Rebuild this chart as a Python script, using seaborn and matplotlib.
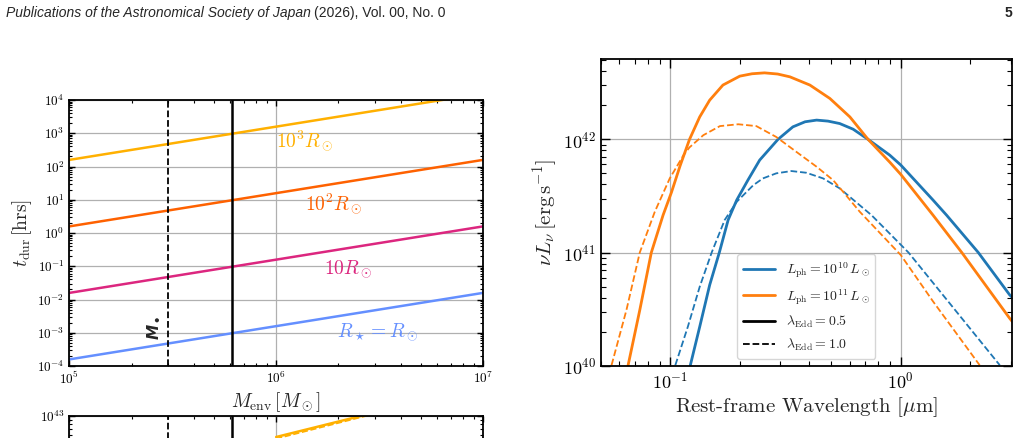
import matplotlib
matplotlib.use("Agg")
import matplotlib.pyplot as plt
import matplotlib.ticker as mticker
from matplotlib.lines import Line2D
import pandas as pd
import seaborn as sns

# === left panel: duration vs envelope mass (straight lines, read at the two ends) ===
m_env = [1e5, 1e7]
t_dur_r1000 = [158, 15800]
t_dur_r100 = [1.58, 158]
t_dur_r10 = [0.0158, 1.58]
t_dur_r1 = [1.58e-4, 0.0158]
radius_labels = [r"$10^3R_\odot$", r"$10^2R_\odot$", r"$10R_\odot$", r"$R_\star = R_\odot$"]
radius_colors = ["#FFB000", "#FE6100", "#DC267F", "#648FFF"]
m_bh_dashed = 3.0e5
m_bh_solid = 6.1e5

# lower-left panel, cut off by the page
m_env_low = [1e6, 2.6e6]
lum_low_solid = [5.75e42, 1e43]
m_env_low_dash = [1e6, 2.75e6]
lum_low_dash = [5.5e42, 1e43]

# === right panel: SEDs ===
wl_11_solid = [0.0655, 0.0736, 0.0826, 0.0929, 0.101, 0.110, 0.121, 0.134, 0.148, 0.169,
               0.200, 0.226, 0.256, 0.292, 0.330, 0.403, 0.492, 0.601, 0.721, 0.895,
               1.0, 1.38, 1.84, 2.97, 3.05]
lum_11_solid = [1.01e40, 3.10e40, 1.0e41, 2.14e41, 3.40e41, 5.80e41, 1.0e42, 1.58e42, 2.22e42, 3.02e42,
                3.62e42, 3.80e42, 3.87e42, 3.78e42, 3.57e42, 3.02e42, 2.30e42, 1.58e42, 1.0e42, 6.3e41,
                4.9e41, 2.14e41, 1.0e41, 2.62e40, 2.45e40]

wl_10_solid = [0.122, 0.134, 0.148, 0.163, 0.178, 0.194, 0.217, 0.244, 0.293, 0.340,
               0.384, 0.431, 0.483, 0.543, 0.621, 0.721, 0.895, 1.0, 1.38, 1.58,
               2.17, 2.97, 3.05]
lum_10_solid = [1.01e40, 2.21e40, 5.16e40, 1.0e41, 1.94e41, 2.91e41, 4.37e41, 6.56e41, 1.0e42, 1.29e42,
                1.43e42, 1.48e42, 1.45e42, 1.38e42, 1.23e42, 1.0e42, 7.26e41, 5.93e41, 2.91e41, 2.14e41,
                1.0e41, 4.22e40, 4.0e40]

wl_11_dash = [0.0555, 0.0644, 0.0736, 0.0855, 0.0993, 0.114, 0.121, 0.139, 0.164, 0.197,
              0.236, 0.288, 0.352, 0.431, 0.508, 0.562, 0.664, 1.0, 1.38, 2.20]
lum_11_dash = [1.01e40, 3.10e40, 1.0e41, 2.29e41, 4.52e41, 7.26e41, 8.5e41, 1.09e42, 1.31e42, 1.36e42,
               1.31e42, 1.05e42, 7.76e41, 5.73e41, 4.37e41, 3.44e41, 2.29e41, 9.5e40, 3.7e40, 1.01e40]

wl_10_dash = [0.105, 0.119, 0.134, 0.151, 0.172, 0.194, 0.229, 0.252, 0.288, 0.335,
              0.389, 0.460, 0.543, 0.746, 1.08, 1.63, 2.69]
lum_10_dash = [1.01e40, 2.21e40, 4.99e40, 1.0e41, 1.94e41, 2.81e41, 3.94e41, 4.52e41, 5.01e41, 5.25e41,
               5.07e41, 4.52e41, 3.69e41, 2.14e41, 1.0e41, 3.56e40, 1.01e40]

c_blue = "#1f77b4"
c_orange = "#ff7f0e"

sns.set_style("ticks")
plt.rcParams["mathtext.fontset"] = "cm"
plt.rcParams["font.family"] = ["cmr10", "DejaVu Serif"]
plt.rcParams["axes.unicode_minus"] = False
plt.rcParams["axes.formatter.use_mathtext"] = True

W, H = 1021, 438
fig = plt.figure(figsize=(W / 100, H / 100), dpi=100)


def frac(x0, y0, x1, y1):
    return [x0 / W, 1 - y1 / H, (x1 - x0) / W, (y1 - y0) / H]


def style_log_axes(ax, size, major_len, minor_len):
    ax.set_xscale("log")
    ax.set_yscale("log")
    for axis in (ax.xaxis, ax.yaxis):
        axis.set_major_locator(mticker.LogLocator(base=10, numticks=30))
        axis.set_minor_locator(mticker.LogLocator(base=10, subs=range(2, 10), numticks=30))
        axis.set_minor_formatter(mticker.NullFormatter())
    ax.tick_params(which="both", direction="in", top=True, right=True, labelsize=size, colors="black")
    ax.tick_params(which="major", length=major_len, width=1.0)
    ax.tick_params(which="minor", length=minor_len, width=0.8)
    ax.grid(True, which="major", color="#b0b0b0", linewidth=0.9)
    for s in ax.spines.values():
        s.set_linewidth(1.3)
        s.set_color("black")


def line(ax, x, y, color, ls="-", lw=1.8):
    df = pd.DataFrame({"x": x, "y": y})
    sns.lineplot(data=df, x="x", y="y", ax=ax, color=color, linestyle=ls, linewidth=lw,
                 estimator=None, sort=False)


# ---- top-left panel ----
ax1 = fig.add_axes(frac(69.3, 100, 483, 366))
style_log_axes(ax1, 9.5, 4.5, 2.5)
for t, col in zip([t_dur_r1000, t_dur_r100, t_dur_r10, t_dur_r1], radius_colors):
    line(ax1, m_env, t, col, lw=1.8)
ax1.axvline(m_bh_dashed, color="black", ls="--", lw=1.3)
ax1.axvline(m_bh_solid, color="black", ls="-", lw=1.8)
ax1.set_xlim(1e5, 1e7)
ax1.set_ylim(1e-4, 1e4)
ax1.set_xlabel(r"$M_{\rm env}\,[M_\odot]$", fontsize=14, labelpad=2)
ax1.set_ylabel(r"$t_{\rm dur}\,[{\rm hrs}]$", fontsize=14, labelpad=2)
label_pos = [(1.37e6, 600), (1.9e6, 7.8), (2.22e6, 0.083), (3.08e6, 1.03e-3)]
for lab, col, (lx, ly) in zip(radius_labels, radius_colors, label_pos):
    ax1.text(lx, ly, lab, color=col, fontsize=14, ha="center", va="center")
ax1.text(2.55e5, 1.4e-3, r"M$_\bullet$", rotation=90, fontsize=11, fontweight="bold",
         style="italic", family="DejaVu Sans", ha="center", va="center")

# ---- lower-left panel (cut off) ----
ax3 = fig.add_axes(frac(69.3, 415.7, 483, 681.7))
style_log_axes(ax3, 9.5, 4.5, 2.5)
line(ax3, m_env_low, lum_low_solid, radius_colors[0], lw=1.8)
line(ax3, m_env_low_dash, lum_low_dash, radius_colors[0], ls="--", lw=1.2)
ax3.axvline(m_bh_dashed, color="black", ls="--", lw=1.3)
ax3.axvline(m_bh_solid, color="black", ls="-", lw=1.8)
ax3.set_xlim(1e5, 1e7)
ax3.set_ylim(1e40, 1e43)
ax3.set_xlabel("")
ax3.set_ylabel("")
ax3.set_yticks([1e43])
ax3.set_yticklabels([r"$10^{43}$"])
ax3.yaxis.set_minor_locator(mticker.LogLocator(base=10, subs=range(2, 10), numticks=30))
ax3.set_xticklabels([])

# ---- right panel ----
ax2 = fig.add_axes(frac(600.7, 59.3, 1011.7, 365.7))
style_log_axes(ax2, 13, 6.5, 3.5)
line(ax2, wl_10_solid, lum_10_solid, c_blue, lw=2.0)
line(ax2, wl_11_solid, lum_11_solid, c_orange, lw=2.0)
line(ax2, wl_10_dash, lum_10_dash, c_blue, ls="--", lw=1.3)
line(ax2, wl_11_dash, lum_11_dash, c_orange, ls="--", lw=1.3)
ax2.set_xlim(0.0498, 3.03)
ax2.set_ylim(1e40, 5.1e42)
ax2.set_xlabel(r"Rest-frame Wavelength $[\mu{\rm m}]$", fontsize=15, labelpad=3)
ax2.set_ylabel(r"$\nu L_\nu\,[{\rm erg\,s^{-1}}]$", fontsize=15, labelpad=2)
handles = [
    Line2D([], [], color=c_blue, lw=2.0),
    Line2D([], [], color=c_orange, lw=2.0),
    Line2D([], [], color="black", lw=2.0),
    Line2D([], [], color="black", lw=1.3, ls="--"),
]
labels = [r"$L_{\rm ph} = 10^{10}\,L_\odot$", r"$L_{\rm ph} = 10^{11}\,L_\odot$",
          r"$\lambda_{\rm Edd} = 0.5$", r"$\lambda_{\rm Edd} = 1.0$"]
ax2.legend(handles, labels, loc="lower center", fontsize=10, handlelength=2.3,
           frameon=True, borderaxespad=0.5)

# ---- page header ----
t1 = fig.text(6 / W, 1 - 13 / H, "Publications of the Astronomical Society of Japan",
              family="Liberation Sans", style="italic", fontsize=10, va="center", ha="left")
fig.canvas.draw()
bb = t1.get_window_extent()
fig.text((bb.x1 + 3) / W, 1 - 13 / H, "(2026), Vol. 00, No. 0", family="Liberation Sans",
         fontsize=10, va="center", ha="left")
fig.text(1012 / W, 1 - 13 / H, "5", family="Liberation Sans", fontweight="bold",
         fontsize=10, va="center", ha="right")

fig.savefig("out.png", dpi=100)
